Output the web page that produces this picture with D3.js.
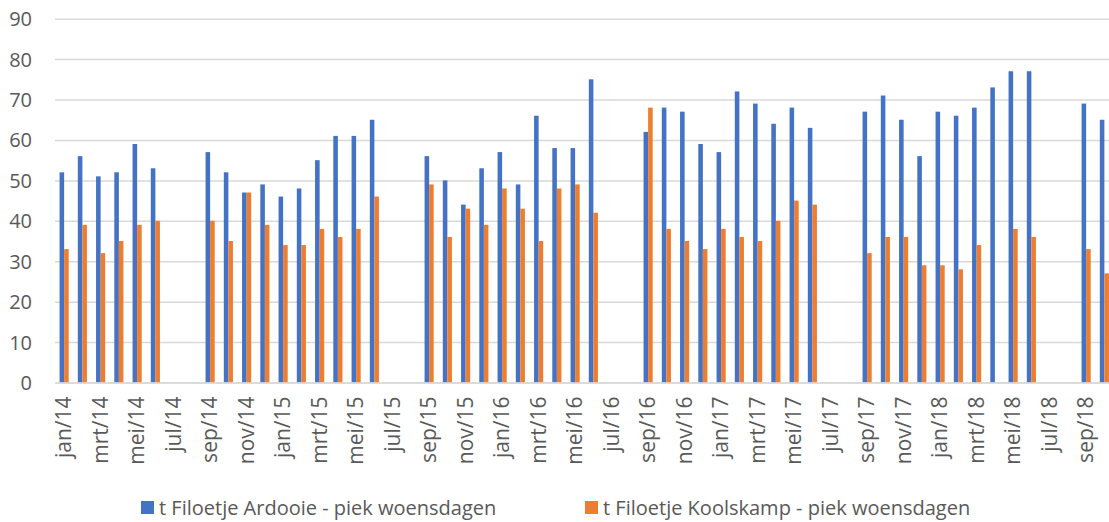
<!DOCTYPE html>
<html>
<head>
<meta charset="utf-8">
<script src="https://cdn.jsdelivr.net/npm/d3@7"></script>
<style>
  body { margin: 0; background: #fff; }
  text { font-family: "Open Sans", sans-serif; fill: #595959; }
</style>
</head>
<body>
<div id="chart"></div>
<script>
// months jan/14 .. okt/18
var months = ["jan/14","feb/14","mrt/14","apr/14","mei/14","jun/14","jul/14","aug/14","sep/14","okt/14","nov/14","dec/14",
  "jan/15","feb/15","mrt/15","apr/15","mei/15","jun/15","jul/15","aug/15","sep/15","okt/15","nov/15","dec/15",
  "jan/16","feb/16","mrt/16","apr/16","mei/16","jun/16","jul/16","aug/16","sep/16","okt/16","nov/16","dec/16",
  "jan/17","feb/17","mrt/17","apr/17","mei/17","jun/17","jul/17","aug/17","sep/17","okt/17","nov/17","dec/17",
  "jan/18","feb/18","mrt/18","apr/18","mei/18","jun/18","jul/18","aug/18","sep/18","okt/18"];

var ardooie = [52,56,51,52,59,53,null,null,57,52,47,49,
  46,48,55,61,61,65,null,null,56,50,44,53,
  57,49,66,58,58,75,null,null,62,68,67,59,
  57,72,69,64,68,63,null,null,67,71,65,56,
  67,66,68,73,77,77,null,null,69,65];

var koolskamp = [33,39,32,35,39,40,null,null,40,35,47,39,
  34,34,38,36,38,46,null,null,49,36,43,39,
  48,43,35,48,49,42,null,null,68,38,35,33,
  38,36,35,40,45,44,null,null,32,36,36,29,
  29,28,34,null,38,36,null,null,33,27];

var seriesNames = ["t Filoetje Ardooie - piek woensdagen", "t Filoetje Koolskamp - piek woensdagen"];
var colors = ["#4472C4", "#ED7D31"];
var yTicks = [0,10,20,30,40,50,60,70,80,90];

var cfg = { width: 1109, height: 522, left: 55, right: 1113.5, top: 18.7, bottom: 382.5 };

var svg = d3.select("#chart").append("svg")
  .attr("width", cfg.width)
  .attr("height", cfg.height);

var x0 = d3.scaleBand()
  .domain(months)
  .range([cfg.left, cfg.right]);

var x1 = d3.scaleBand()
  .domain([0, 1])
  .range([0, x0.bandwidth()])
  .paddingOuter(1);

var y = d3.scaleLinear()
  .domain([0, 90])
  .range([cfg.bottom, cfg.top]);

// gridlines + y labels
var yAxis = svg.append("g")
  .attr("transform", "translate(" + cfg.left + ",0)")
  .call(d3.axisLeft(y).tickValues(yTicks).tickSize(-(cfg.width - cfg.left)).tickPadding(23));
yAxis.select(".domain").remove();
yAxis.selectAll("line").attr("stroke", "#d9d9d9").attr("stroke-width", 1.5);
yAxis.selectAll("text").style("font-size", "20px").attr("dy", "0.35em");

// bars
var rows = months.map(function(m, i) { return { month: m, vals: [ardooie[i], koolskamp[i]] }; });

var groups = svg.append("g").selectAll("g")
  .data(rows)
  .enter().append("g")
  .attr("transform", function(d) { return "translate(" + x0(d.month) + ",0)"; });

groups.selectAll("rect")
  .data(function(d) { return d.vals.map(function(v, k) { return { k: k, v: v }; }).filter(function(e) { return e.v !== null; }); })
  .enter().append("rect")
  .attr("x", function(d) { return x1(d.k); })
  .attr("width", x1.bandwidth())
  .attr("y", function(d) { return y(d.v); })
  .attr("height", function(d) { return y(0) - y(d.v); })
  .attr("fill", function(d) { return colors[d.k]; });

// x axis, label every second month
var xAxis = svg.append("g")
  .attr("transform", "translate(0," + cfg.bottom + ")")
  .call(d3.axisBottom(x0).tickValues(months.filter(function(m, i) { return i % 2 === 0; })).tickSize(0));
xAxis.select(".domain").attr("stroke", "#d9d9d9").attr("stroke-width", 1.5);
xAxis.selectAll("text")
  .style("font-size", "21px")
  .attr("transform", "rotate(-90)")
  .attr("text-anchor", "end")
  .attr("x", -14)
  .attr("y", 0)
  .attr("dy", "0.35em");

// legend
var legendX = [141, 585];
var legend = svg.append("g").selectAll("g")
  .data(seriesNames)
  .enter().append("g")
  .attr("transform", function(d, i) { return "translate(" + legendX[i] + ",501)"; });
legend.append("rect")
  .attr("width", 13).attr("height", 13)
  .attr("fill", function(d, i) { return colors[i]; });
legend.append("text")
  .attr("x", 18).attr("y", 7)
  .attr("dy", "0.35em")
  .style("font-size", "20px")
  .text(function(d) { return d; });
</script>
</body>
</html>
